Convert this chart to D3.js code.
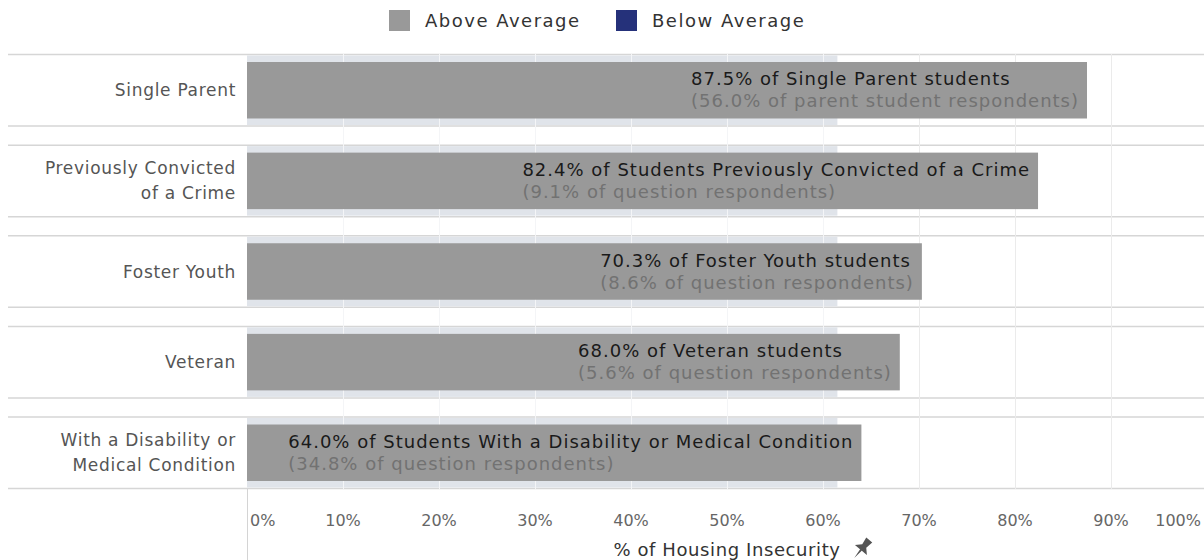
<!DOCTYPE html>
<html>
<head>
<meta charset="utf-8">
<title>Housing Insecurity by Student Group</title>
<script src="https://cdnjs.cloudflare.com/ajax/libs/d3/7.8.5/d3.min.js"></script>
<style>
body { margin: 0; background: #fff; }
text { font-family: "DejaVu Sans", "Noto Sans", sans-serif; }
</style>
</head>
<body>
<div id="chart"></div>
<script>
// Data
var groups = [
    ["Single Parent"],
    ["Previously Convicted", "of a Crime"],
    ["Foster Youth"],
    ["Veteran"],
    ["With a Disability or", "Medical Condition"]
];
var insecurity = [87.5, 82.4, 70.3, 68.0, 64.0];
var mainLabels = [
    "87.5% of Single Parent students",
    "82.4% of Students Previously Convicted of a Crime",
    "70.3% of Foster Youth students",
    "68.0% of Veteran students",
    "64.0% of Students With a Disability or Medical Condition"
];
var subLabels = [
    "(56.0% of parent student respondents)",
    "(9.1% of question respondents)",
    "(8.6% of question respondents)",
    "(5.6% of question respondents)",
    "(34.8% of question respondents)"
];
var averageValue = 61.5;
var xTicks = [0, 10, 20, 30, 40, 50, 60, 70, 80, 90, 100];
var legendItems = ["Above Average", "Below Average"];
var legendColors = ["#999999", "#25317a"];

var width = 1204, height = 560;

var svg = d3.select("#chart").append("svg")
    .attr("width", width)
    .attr("height", height);

var x = d3.scaleLinear().domain([0, 100]).range([247, 1207]);
var y = d3.scaleBand()
    .domain(d3.range(groups.length))
    .range([54, 489])
    .paddingInner(0.2);

// row separators
var rowLines = [];
d3.range(groups.length).forEach(function (i) {
    rowLines.push(y(i) + 0.5, y(i) + y.bandwidth() - 0.5);
});
svg.append("g").selectAll("line")
    .data(rowLines)
    .join("line")
    .attr("x1", 8).attr("x2", width)
    .attr("y1", function (d) { return d; })
    .attr("y2", function (d) { return d; })
    .attr("stroke", "#d6d6d6").attr("stroke-width", 1.5);

// average band
svg.append("g").selectAll("rect")
    .data(d3.range(groups.length))
    .join("rect")
    .attr("x", x(0))
    .attr("y", function (i) { return y(i) + 1.5; })
    .attr("width", x(averageValue) - x(0))
    .attr("height", y.bandwidth() - 3)
    .attr("fill", "#e0e4ea");

// gridlines
svg.append("g").selectAll("line")
    .data(xTicks.slice(1))
    .join("line")
    .attr("x1", function (d) { return x(d) + 0.5; })
    .attr("x2", function (d) { return x(d) + 0.5; })
    .attr("y1", 54).attr("y2", 489)
    .attr("stroke", function (d) { return d < averageValue ? "#f4f5f7" : "#ebebeb"; })
    .attr("stroke-width", 1);

// left axis line
svg.append("line")
    .attr("x1", x(0) + 0.5).attr("x2", x(0) + 0.5)
    .attr("y1", 489).attr("y2", height)
    .attr("stroke", "#d4d4d4");

// bars
var pad = 8;
svg.append("g").selectAll("rect")
    .data(insecurity)
    .join("rect")
    .attr("x", x(0))
    .attr("y", function (d, i) { return y(i) + pad; })
    .attr("width", function (d) { return x(d) - x(0); })
    .attr("height", y.bandwidth() - 2 * pad)
    .attr("fill", function (d) { return d >= averageValue ? legendColors[0] : legendColors[1]; });

// bar labels: two lines, block right-aligned to the bar end
var labels = svg.append("g").selectAll("g")
    .data(insecurity)
    .join("g");
labels.each(function (d, i) {
    var g = d3.select(this);
    var cy = y(i) + y.bandwidth() / 2;
    var t1 = g.append("text")
        .attr("y", cy - 5)
        .attr("font-size", 18)
        .attr("letter-spacing", 1)
        .attr("fill", "#1a1a1a")
        .text(mainLabels[i]);
    var t2 = g.append("text")
        .attr("y", cy + 17)
        .attr("font-size", 18)
        .attr("letter-spacing", 1)
        .attr("fill", "#727272")
        .text(subLabels[i]);
    var w = Math.max(t1.node().getComputedTextLength(), t2.node().getComputedTextLength());
    var left = Math.max(x(d) - 8 - w, x(0) + 10);
    t1.attr("x", left);
    t2.attr("x", left);
});

// category labels
svg.append("g").selectAll("text")
    .data(groups)
    .join("text")
    .attr("y", function (d, i) {
        var cy = y(i) + y.bandwidth() / 2;
        return d.length === 1 ? cy + 6 : cy - 7;
    })
    .attr("text-anchor", "end")
    .attr("font-size", 17)
    .attr("letter-spacing", 0.7)
    .attr("fill", "#555")
    .each(function (d) {
        var t = d3.select(this);
        d.forEach(function (line, k) {
            t.append("tspan")
                .attr("x", 236)
                .attr("dy", k === 0 ? 0 : 25)
                .text(line);
        });
    });

// x tick labels
svg.append("g").selectAll("text")
    .data(xTicks)
    .join("text")
    .attr("y", 526)
    .attr("font-size", 16)
    .attr("fill", "#666")
    .attr("text-anchor", "middle")
    .text(function (d) { return d + "%"; })
    .each(function (d) {
        var w = this.getComputedTextLength();
        var cx = x(d);
        cx = Math.max(cx, x(0) + 3 + w / 2);
        cx = Math.min(cx, width - 3 - w / 2);
        d3.select(this).attr("x", cx);
    });

// axis title with pin
var title = svg.append("text")
    .attr("x", 727)
    .attr("y", 556)
    .attr("text-anchor", "middle")
    .attr("font-size", 18)
    .attr("letter-spacing", 0.6)
    .attr("fill", "#333")
    .text("% of Housing Insecurity");
var tEnd = 727 + title.node().getComputedTextLength() / 2;
svg.append("path")
    .attr("transform", "translate(" + (tEnd + 22) + ",548) rotate(40) scale(1.3)")
    .attr("d", "M-3,-8 L3,-8 L2,-2 L6,2 L-6,2 L-2,-2 Z M-0.8,2 L0.8,2 L0,10 Z")
    .attr("fill", "#555");

// legend
var legend = svg.append("g").selectAll("g")
    .data(legendItems)
    .join("g")
    .attr("transform", function (d, i) { return "translate(" + [389, 616][i] + ",10)"; });
legend.append("rect")
    .attr("width", 21).attr("height", 21)
    .attr("fill", function (d, i) { return legendColors[i]; });
legend.append("text")
    .attr("x", 36).attr("y", 17)
    .attr("font-size", 18)
    .attr("letter-spacing", 1.5)
    .attr("fill", "#333")
    .text(function (d) { return d; });
</script>
</body>
</html>
